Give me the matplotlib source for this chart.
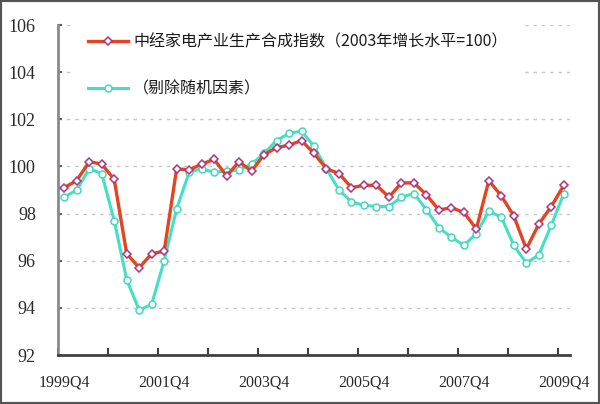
import numpy as np
import matplotlib
matplotlib.use("Agg")
from matplotlib import pyplot as plt
from matplotlib.patches import Rectangle

# quarters 1999Q4 .. 2009Q4 (41 points)
quarters = [f"{y}Q{q}" for y in range(1999, 2010) for q in (1, 2, 3, 4)][3:44]
tick_labels = ["1999Q4", "2001Q4", "2003Q4", "2005Q4", "2007Q4", "2009Q4"]

index_raw = [99.1, 99.4, 100.2, 100.1, 99.45, 96.3, 95.7, 96.3, 96.4, 99.9,
             99.85, 100.1, 100.3, 99.6, 100.2, 99.8, 100.5, 100.8, 100.9, 101.1,
             100.55, 99.9, 99.7, 99.1, 99.2, 99.2, 98.7, 99.3, 99.3, 98.8,
             98.15, 98.25, 98.05, 97.35, 99.4, 98.75, 97.9, 96.5, 97.55, 98.3,
             99.2]
index_adj = [98.7, 99.0, 99.9, 99.7, 97.7, 95.2, 93.9, 94.15, 96.0, 98.2,
             99.75, 99.9, 99.75, 99.8, 99.85, 100.1, 100.55, 101.1, 101.4, 101.5,
             100.85, 99.9, 99.0, 98.5, 98.35, 98.3, 98.3, 98.7, 98.85, 98.17,
             97.4, 97.0, 96.65, 97.15, 98.1, 97.85, 96.65, 95.9, 96.25, 97.5,
             98.85]

label_raw = "中经家电产业生产合成指数（2003年增长水平=100）"
label_adj = "（剔除随机因素）"

cjk = ["Noto Sans CJK SC", "DejaVu Sans"]

fig = plt.figure(figsize=(6, 4.04), dpi=100)
ax = fig.add_axes([58 / 600, 1 - 355 / 404, 512 / 600, 330 / 404])

x = np.arange(len(quarters))
ax.plot(x, index_adj, color="#44E0C4", lw=2.2, marker="o", ms=5,
        mfc="white", mec="#44D8BE", mew=1.1, label=label_adj, zorder=2)
ax.plot(x, index_raw, color="#E4441E", lw=2.4, marker="D", ms=4.5,
        mfc="white", mec="#B0357E", mew=1.1, label=label_raw, zorder=3)

ax.set_xlim(-0.5, len(quarters) - 0.5)
ax.set_ylim(92, 106)
ax.set_yticks(np.arange(92, 107, 2))
ax.set_xticks([quarters.index(t) for t in tick_labels])
ax.set_xticklabels(tick_labels)
ax.set_xticks(np.arange(-0.5, len(quarters), 4), minor=True)

for v in range(94, 107, 2):
    ax.axhline(v, color="#C8C8C8", lw=1, ls=(0, (2.5, 3.5)), zorder=1)

ax.tick_params(axis="x", which="major", length=0, pad=14, labelsize=11.5,
               labelcolor="#2a2a2a")
ax.tick_params(axis="x", which="minor", direction="in", length=5, width=1.5,
               color="#404040")
ax.tick_params(axis="y", direction="in", length=3, width=1.5, color="#606060",
               pad=16, labelsize=13, labelcolor="#2a2a2a")
for lab in ax.get_xticklabels() + ax.get_yticklabels():
    lab.set_family("Liberation Serif")

ax.spines["top"].set_visible(False)
ax.spines["right"].set_visible(False)
ax.spines["left"].set_color("#8A8A8A")
ax.spines["left"].set_linewidth(2)
ax.spines["bottom"].set_color("#404040")
ax.spines["bottom"].set_linewidth(2)

handles, labels = ax.get_legend_handles_labels()
leg = ax.legend(handles[::-1], labels[::-1], loc="upper left",
                bbox_to_anchor=(74 / 600, 1 - 19 / 404),
                bbox_transform=fig.transFigure, borderaxespad=0,
                borderpad=0.9, labelspacing=1.9, handlelength=2.5,
                handletextpad=0.3, frameon=True, framealpha=1,
                prop={"family": cjk, "size": 11.5})
leg.get_frame().set_facecolor("white")
leg.get_frame().set_edgecolor("none")
leg.set_zorder(5)
for t in leg.get_texts():
    t.set_color("#1a1a1a")

fig.patches.append(Rectangle((0, 0), 1, 1, transform=fig.transFigure,
                             fill=False, edgecolor="#555555", lw=3))

fig.savefig("out.png", dpi=100)
